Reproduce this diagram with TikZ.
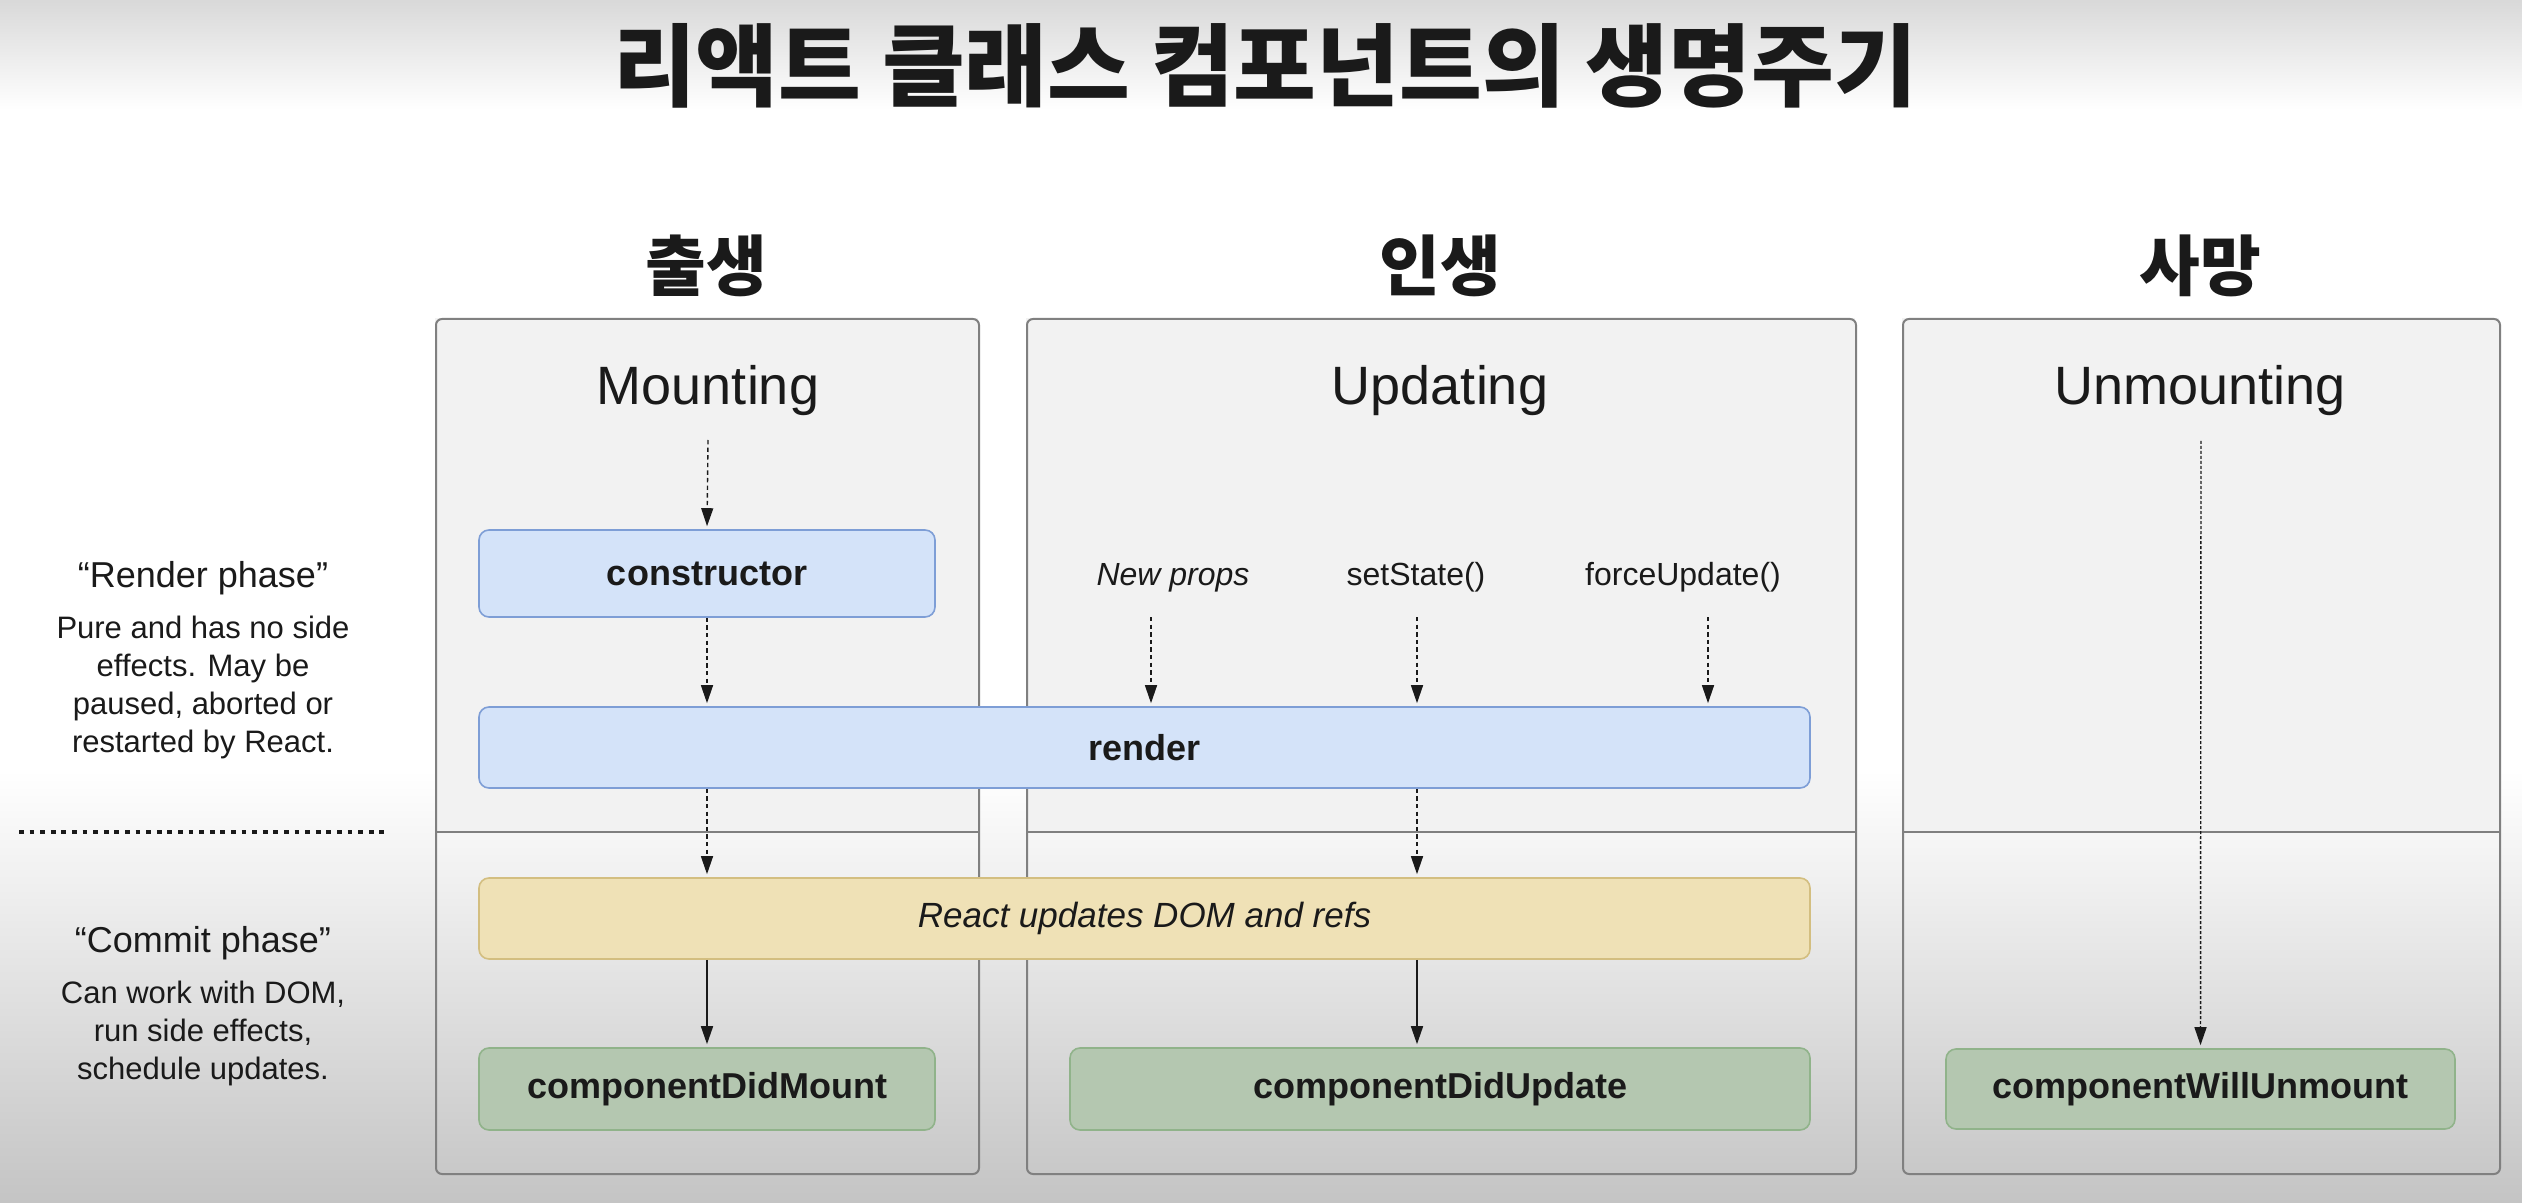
\documentclass[tikz,border=0pt]{standalone}
\usepackage{fontspec}
\setmainfont{Liberation Sans}
\newfontfamily\kofont{Noto Sans CJK KR}
\usetikzlibrary{arrows.meta, positioning, calc}
\definecolor{ink}{HTML}{1A1A1A}
\definecolor{laneline}{HTML}{808080}
\definecolor{lanefill}{HTML}{F2F2F2}
\definecolor{hookfill}{HTML}{D4E3F9}
\definecolor{hookline}{HTML}{7E9ED6}
\definecolor{domfill}{HTML}{EFE1B6}
\definecolor{domline}{HTML}{D3BE80}
\definecolor{effectfill}{HTML}{B4C7B0}
\definecolor{effectline}{HTML}{90B38A}
\definecolor{vignette}{HTML}{C4C4C4}

\begin{document}
\begin{tikzpicture}[x=0.5pt, y=-0.5pt, >={Triangle[length=9pt,width=6pt]}]
    \tikzstyle{lane} = [rectangle, draw=laneline, line width=1pt, rounded corners=3pt, inner sep=0pt, anchor=north west, minimum height=427.5pt]
    \tikzstyle{hookbox} = [rectangle, draw=hookline, fill=hookfill, rounded corners=5pt, line width=0.8pt, minimum height=43.5pt, text=ink, font=\fontsize{18}{21}\selectfont\bfseries]
    \tikzstyle{dombox} = [hookbox, draw=domline, fill=domfill, font=\fontsize{17.5}{21}\selectfont\itshape]
    \tikzstyle{effectbox} = [hookbox, draw=effectline, fill=effectfill]
    \tikzstyle{lanetitle} = [font=\fontsize{27}{32}\selectfont, text=ink, anchor=base]
    \tikzstyle{stage} = [font=\kofont\bfseries\fontsize{33}{38}\selectfont, text=ink]
    \tikzstyle{trigger} = [font=\fontsize{16}{19}\selectfont, text=ink, anchor=base]
    \tikzstyle{phasehead} = [font=\fontsize{18}{21}\selectfont, text=ink, anchor=base]
    \tikzstyle{phasenote} = [font=\fontsize{15.5}{19}\selectfont, text=ink, align=center, anchor=base]
    \tikzstyle{dashflow} = [->, draw=ink, dash pattern=on 2.2pt off 1.6pt, line width=0.7pt, shorten >=1.5pt]
    \tikzstyle{solidflow} = [->, draw=ink, line width=0.8pt, shorten >=1.5pt]

    \useasboundingbox (0,0) rectangle (2522,1203);
    % backdrop
    \fill[white] (0,0) rectangle (2522,1203);
    \shade[top color=vignette!65, bottom color=white] (0,0) rectangle (2522,110);
    \shade[top color=white, bottom color=vignette] (0,770) rectangle (2522,1203);

    \node[font=\kofont\bfseries\fontsize{45}{52}\selectfont, text=ink] (title) at (1265,66) {리액트 클래스 컴포넌트의 생명주기};

    \node[stage] (birth) at (706,266) {출생};
    \node[stage] (life) at (1440,266) {인생};
    \node[stage] (death) at (2200,266) {사망};

    % lanes
    \foreach \xa/\xb in {435/978, 1026/1855, 1902/2499}
        \fill[lanefill] (\xa,318) rectangle (\xb,832);
    \node[lane, minimum width=271.5pt] (mountlane) at (435,318) {};
    \node[lane, minimum width=414.5pt] (updatelane) at (1026,318) {};
    \node[lane, minimum width=298.5pt] (unmountlane) at (1902,318) {};
    \foreach \l in {mountlane, updatelane, unmountlane}
        \draw[laneline, line width=1pt] (\l.west |- 0,832) -- (\l.east |- 0,832);

    \node[lanetitle] (mounttitle) at (708,405) {Mounting};
    \node[lanetitle] (updatetitle) at (1440,405) {Updating};
    \node[lanetitle] (unmounttitle) at (2200,405) {Unmounting};

    % phase notes (base = last line)
    \node[phasehead] (renderhead) at (203,587) {“Render phase”};
    \node[phasenote] (rendernote) at (203,752) {Pure and has no side\\effects. May be\\paused, aborted or\\restarted by React.};
    \draw[ink, line width=2.4pt, dash pattern=on 2.4pt off 2.9pt] (19,832) -- (386,832);
    \node[phasehead] (commithead) at (203,952) {“Commit phase”};
    \node[phasenote] (commitnote) at (203,1079) {Can work with DOM,\\run side effects,\\schedule updates.};

    % methods
    \node[hookbox, minimum width=228pt] (ctor) at (707,573.5) {constructor};
    \node[hookbox, minimum width=665.5pt, minimum height=40.5pt] (render) at (1144.5,747.5) {render};
    \node[dombox, minimum width=665.5pt, minimum height=40.5pt] (dom) at (1144.5,918.5) {React updates DOM and refs};
    \node[effectbox, minimum width=228pt, minimum height=41pt] (didmount) at (707,1089) {componentDidMount};
    \node[effectbox, minimum width=370pt, minimum height=41pt] (didupdate) at (1440,1089) {componentDidUpdate};
    \node[effectbox, minimum width=254.5pt, minimum height=40pt] (willunmount) at (2200.5,1089) {componentWillUnmount};

    \node[trigger, font=\fontsize{16}{19}\selectfont\itshape] (props) at (1173,585) {New props};
    \node[trigger] (setstate) at (1416,585) {setState()};
    \node[trigger] (force) at (1683,585) {forceUpdate()};

    \coordinate (mountin) at (708,440);
    \coordinate (propsin) at (1151,617);
    \coordinate (statein) at (1417,617);
    \coordinate (forcein) at (1708,617);
    \coordinate (unmountin) at (2201,441);

    % flow
    \draw[dashflow] (mountin) -- (ctor.north);
    \draw[dashflow] (ctor.south) -- (ctor.south |- render.north);
    \draw[dashflow] (ctor.south |- render.south) -- (ctor.south |- dom.north);
    \draw[solidflow] (ctor.south |- dom.south) -- (didmount.north);
    \foreach \c in {propsin, statein, forcein}
        \draw[dashflow] (\c) -- (\c |- render.north);
    \draw[dashflow] (statein |- render.south) -- (statein |- dom.north);
    \draw[solidflow] (statein |- dom.south) -- (statein |- didupdate.north);
    \draw[dashflow, dash pattern=on 1.5pt off 1pt] (unmountin) -- (willunmount.north);
\end{tikzpicture}
\end{document}
